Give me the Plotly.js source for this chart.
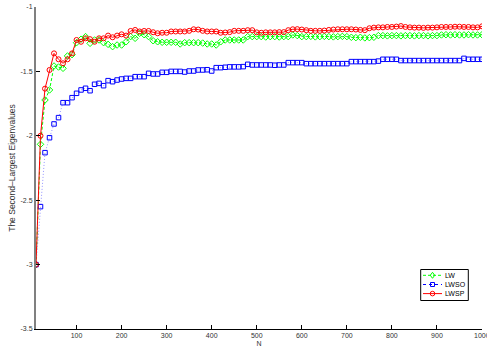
<!DOCTYPE html>
<html>
<head>
<meta charset="utf-8">
<script src="https://cdn.plot.ly/plotly-3.0.1.min.js"></script>
<style>html,body{margin:0;padding:0;background:#fff;}#chart{width:487px;height:349px;}</style>
</head>
<body>
<div id="chart"></div>
<script>
const N = [];
for (let n = 10; n <= 1000; n += 10) N.push(n);

const LW = [
-3.0,-2.066,-1.722,-1.644,-1.458,-1.466,-1.476,-1.38,-1.37,-1.277,
-1.25,-1.23,-1.282,-1.256,-1.256,-1.277,-1.29,-1.308,-1.295,-1.295,
-1.27,-1.23,-1.243,-1.204,-1.215,-1.23,-1.262,-1.27,-1.274,-1.274,
-1.274,-1.274,-1.287,-1.277,-1.277,-1.277,-1.277,-1.28,-1.287,-1.287,
-1.295,-1.27,-1.256,-1.256,-1.256,-1.256,-1.256,-1.23,-1.23,-1.23,
-1.23,-1.233,-1.23,-1.23,-1.233,-1.23,-1.23,-1.217,-1.222,-1.23,
-1.23,-1.228,-1.232,-1.23,-1.228,-1.23,-1.232,-1.23,-1.228,-1.23,
-1.235,-1.238,-1.235,-1.24,-1.238,-1.235,-1.222,-1.222,-1.224,-1.222,
-1.222,-1.224,-1.222,-1.222,-1.224,-1.222,-1.222,-1.224,-1.222,-1.222,
-1.217,-1.215,-1.217,-1.215,-1.217,-1.217,-1.215,-1.217,-1.217,-1.215
];

const LWSO = [
-3.0,-2.55,-2.131,-2.015,-1.908,-1.859,-1.743,-1.743,-1.704,-1.67,
-1.644,-1.631,-1.65,-1.6,-1.593,-1.611,-1.572,-1.58,-1.567,-1.559,
-1.554,-1.554,-1.541,-1.541,-1.541,-1.515,-1.52,-1.52,-1.507,-1.507,
-1.5,-1.5,-1.5,-1.505,-1.497,-1.497,-1.489,-1.489,-1.487,-1.497,
-1.471,-1.471,-1.468,-1.465,-1.465,-1.465,-1.463,-1.445,-1.45,-1.45,
-1.45,-1.45,-1.45,-1.452,-1.45,-1.45,-1.432,-1.432,-1.432,-1.432,
-1.44,-1.44,-1.44,-1.44,-1.44,-1.44,-1.44,-1.44,-1.44,-1.44,
-1.424,-1.424,-1.424,-1.424,-1.424,-1.424,-1.42,-1.406,-1.406,-1.406,
-1.406,-1.416,-1.416,-1.416,-1.416,-1.416,-1.416,-1.416,-1.416,-1.416,
-1.416,-1.416,-1.416,-1.416,-1.416,-1.399,-1.406,-1.406,-1.406,-1.406
];

const LWSP = [
-3.0,-2.0,-1.634,-1.489,-1.36,-1.406,-1.437,-1.406,-1.36,-1.256,
-1.27,-1.243,-1.25,-1.27,-1.243,-1.243,-1.222,-1.235,-1.222,-1.212,
-1.222,-1.186,-1.178,-1.19,-1.186,-1.186,-1.196,-1.204,-1.2,-1.2,
-1.19,-1.19,-1.19,-1.19,-1.185,-1.173,-1.175,-1.185,-1.19,-1.19,
-1.19,-1.2,-1.198,-1.195,-1.185,-1.185,-1.185,-1.18,-1.18,-1.197,
-1.2,-1.197,-1.197,-1.197,-1.195,-1.195,-1.18,-1.173,-1.172,-1.175,
-1.18,-1.185,-1.185,-1.185,-1.183,-1.178,-1.175,-1.173,-1.173,-1.173,
-1.173,-1.175,-1.178,-1.18,-1.165,-1.16,-1.158,-1.158,-1.155,-1.155,
-1.152,-1.148,-1.155,-1.158,-1.16,-1.16,-1.162,-1.16,-1.16,-1.158,
-1.155,-1.155,-1.155,-1.153,-1.153,-1.155,-1.155,-1.158,-1.158,-1.15
];

const seriesNames = ['LW', 'LWSO', 'LWSP'];
const xTickVals = [100,200,300,400,500,600,700,800,900,1000];
const xTickText = ['100','200','300','400','500','600','700','800','900','1000'];
const yTickVals = [-3.5,-3,-2.5,-2,-1.5,-1];
const yTickText = ['-3.5','-3','-2.5','-2','-1.5','-1'];

const FONT = 'Liberation Sans, Arial, Helvetica, sans-serif';
const GREEN = '#00ff00', BLUE = '#0000ff', RED = '#ff0000';

const traces = [
  {x: N, y: LW, name: seriesNames[0], type: 'scatter', mode: 'lines+markers',
   line: {color: GREEN, width: 1, dash: '3px,2px'},
   marker: {symbol: 'diamond-open', size: 5, color: GREEN, line: {color: GREEN, width: 1}}},
  {x: N, y: LWSO, name: seriesNames[1], type: 'scatter', mode: 'lines+markers',
   line: {color: 'rgba(60,60,255,0.55)', width: 1, dash: '1px,2px'},
   marker: {symbol: 'square-open', size: 4.5, color: BLUE, line: {color: BLUE, width: 1}}},
  {x: N, y: LWSP, name: seriesNames[2], type: 'scatter', mode: 'lines+markers',
   line: {color: RED, width: 1},
   marker: {symbol: 'circle-open', size: 5, color: RED, line: {color: RED, width: 1}}}
];

// custom MATLAB-like legend (paper coordinates computed from plot-area pixels)
const PL = 36, PR = 482, PT = 7, PB = 329;
const px = v => (v - PL) / (PR - PL);
const py = v => (PB - v) / (PB - PT);
const legRows = [275.3, 284.5, 293.6];
const legStyles = [
  {color: GREEN, dash: '3px,2px', sym: 'diamond'},
  {color: BLUE, dash: 'dot', sym: 'square'},
  {color: RED, dash: 'solid', sym: 'circle'}
];
const shapes = [
  {type: 'rect', xref: 'paper', yref: 'paper', x0: px(420.7), x1: px(468.3), y0: py(300.5), y1: py(269.5),
   fillcolor: '#fff', line: {color: '#000', width: 1}, layer: 'above'}
];
const annotations = [];
legRows.forEach((r, i) => {
  const st = legStyles[i];
  shapes.push({type: 'line', xref: 'paper', yref: 'paper', x0: px(423), x1: px(442), y0: py(r), y1: py(r),
    line: {color: st.color, width: 1, dash: st.dash}, layer: 'above'});
  const cx = 432.5, h = 2.3;
  if (st.sym === 'circle') {
    shapes.push({type: 'circle', xref: 'paper', yref: 'paper', x0: px(cx - h), x1: px(cx + h), y0: py(r + h), y1: py(r - h),
      line: {color: st.color, width: 1}, fillcolor: 'rgba(0,0,0,0)', layer: 'above'});
  } else if (st.sym === 'square') {
    shapes.push({type: 'rect', xref: 'paper', yref: 'paper', x0: px(cx - 2), x1: px(cx + 2), y0: py(r + 2), y1: py(r - 2),
      line: {color: st.color, width: 1}, fillcolor: 'rgba(0,0,0,0)', layer: 'above'});
  } else {
    const d = 'M ' + px(cx) + ' ' + py(r - 3) + ' L ' + px(cx + 2.2) + ' ' + py(r) + ' L ' + px(cx) + ' ' + py(r + 3) +
              ' L ' + px(cx - 2.2) + ' ' + py(r) + ' Z';
    shapes.push({type: 'path', xref: 'paper', yref: 'paper', path: d,
      line: {color: st.color, width: 1}, fillcolor: 'rgba(0,0,0,0)', layer: 'above'});
  }
  annotations.push({xref: 'paper', yref: 'paper', x: px(443.3), y: py(r), xanchor: 'left', yanchor: 'middle',
    text: seriesNames[i], showarrow: false, font: {family: FONT, size: 7, color: '#000'}});
});
// last x tick label (clipped by the page edge, as in the original)
annotations.push({xref: 'x', yref: 'paper', x: xTickVals[xTickVals.length - 1], y: 0, xanchor: 'center', yanchor: 'top',
  yshift: -1, text: xTickText[xTickText.length - 1], showarrow: false, font: {family: FONT, size: 7, color: '#333'}});

const layout = {
  width: 487, height: 349,
  margin: {l: 36, r: 5, t: 7, b: 20, pad: 0},
  paper_bgcolor: '#ffffff', plot_bgcolor: '#ffffff',
  font: {family: FONT, size: 7, color: '#000'},
  showlegend: false,
  shapes: shapes,
  annotations: annotations,
  xaxis: {range: [10, 1000], tickvals: xTickVals, ticktext: xTickText,
          ticks: 'inside', ticklen: 4, tickcolor: '#000', tickwidth: 1,
          showline: true, linecolor: '#000', linewidth: 1, mirror: false,
          showgrid: false, zeroline: false, automargin: false,
          tickfont: {family: FONT, size: 7, color: '#333'},
          title: {text: 'N', font: {family: FONT, size: 7, color: '#333'}, standoff: 2}},
  yaxis: {range: [-3.5, -1], tickvals: yTickVals, ticktext: yTickText,
          ticks: 'inside', ticklen: 4, tickcolor: '#000', tickwidth: 1,
          showline: true, linecolor: '#808080', linewidth: 2, mirror: false,
          showgrid: false, zeroline: false, automargin: false,
          tickfont: {family: FONT, size: 7, color: '#333'},
          title: {text: 'The Second\u2013Largest Eigenvalues', font: {family: FONT, size: 8.5, color: '#333'}, standoff: 4}}
};

Plotly.newPlot('chart', traces, layout, {staticPlot: true, displayModeBar: false});
</script>
</body>
</html>
